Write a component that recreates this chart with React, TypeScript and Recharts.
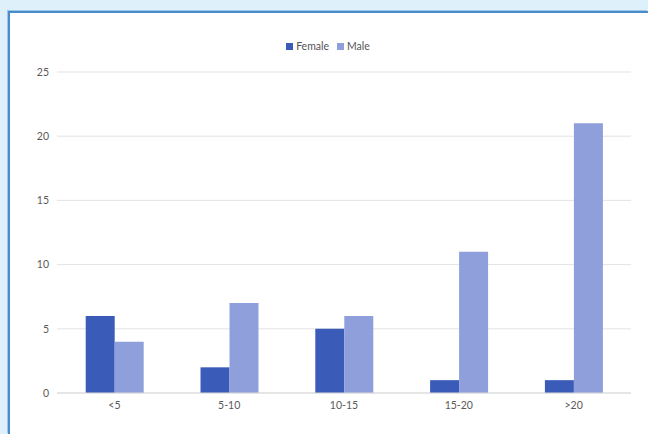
import { BarChart, Bar, XAxis, YAxis, CartesianGrid } from 'recharts'

const categories = ['<5', '5-10', '10-15', '15-20', '>20']
const female = [6, 2, 5, 1, 1]
const male = [4, 7, 6, 11, 21]
const yTicks = [0, 5, 10, 15, 20, 25]

const COLORS = {
  female: '#3a5cb8',
  male: '#8e9fdc',
}

const data = categories.map((c, i) => ({ cat: c, Female: female[i], Male: male[i] }))

const FONT = 'Lato, "Open Sans", sans-serif'

export default function App() {
  return (
    <div style={{ position: 'fixed', left: 0, top: 0, width: 648, height: 434, background: '#def0fa', overflow: 'hidden', fontFamily: FONT }}>
      {/* white panel, open to the right and bottom like the cropped source */}
      <div style={{
        position: 'absolute', left: 8, top: 11, width: 640, height: 423,
        background: '#fff', borderLeft: '2px solid #4a8cc8', borderTop: '2px solid #4a8cc8',
        boxShadow: '-1px -1px 0 #9cc6ea', boxSizing: 'border-box',
      }} />
      <div style={{
        position: 'absolute', left: 0, top: 40, width: 648, display: 'flex', justifyContent: 'center',
        fontSize: 10.5, color: '#555', gap: 8, paddingLeft: 4,
      }}>
        <span style={{ display: 'flex', alignItems: 'center', gap: 3 }}>
          <span style={{ width: 7, height: 7, background: COLORS.female, display: 'inline-block' }} />Female
        </span>
        <span style={{ display: 'flex', alignItems: 'center', gap: 3 }}>
          <span style={{ width: 7, height: 7, background: COLORS.male, display: 'inline-block' }} />Male
        </span>
      </div>
      <div style={{ position: 'absolute', left: 0, top: 0 }}>
        <BarChart
          width={648}
          height={434}
          data={data}
          margin={{ top: 72, right: 17, bottom: 12, left: 33 }}
          barCategoryGap="25%"
          barGap={0}
        >
          <CartesianGrid vertical={false} stroke="#e3e3e3" />
          <XAxis
            dataKey="cat"
            tickLine={false}
            axisLine={{ stroke: '#d9d9d9' }}
            tick={{ fontSize: 10.5, fill: '#595959', fontFamily: FONT }}
            height={29}
            tickMargin={3}
          />
          <YAxis
            domain={[0, 25]}
            ticks={yTicks}
            width={24}
            tickLine={false}
            axisLine={false}
            tick={{ fontSize: 10.5, fill: '#595959', fontFamily: FONT }}
          />
          <Bar dataKey="Female" fill={COLORS.female} isAnimationActive={false} />
          <Bar dataKey="Male" fill={COLORS.male} isAnimationActive={false} />
        </BarChart>
      </div>
    </div>
  )
}
